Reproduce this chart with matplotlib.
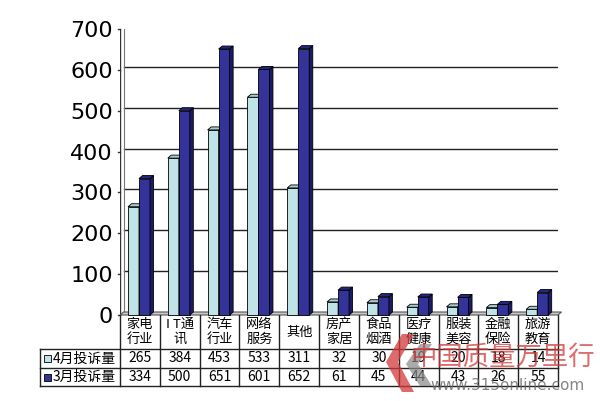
import numpy as np
import matplotlib
matplotlib.use("Agg")
import matplotlib.pyplot as plt
from matplotlib.patches import Polygon

plt.rcParams['font.family'] = ['Noto Sans CJK SC', 'DejaVu Sans']

categories = ["家电\n行业", "I T通\n讯", "汽车\n行业", "网络\n服务", "其他",
              "房产\n家居", "食品\n烟酒", "医疗\n健康", "服装\n美容", "金融\n保险", "旅游\n教育"]
april = [265, 384, 453, 533, 311, 32, 30, 19, 20, 18, 14]
march = [334, 500, 651, 601, 652, 61, 45, 44, 43, 26, 55]
series_names = ["4月投诉量", "3月投诉量"]
yticks = [0, 100, 200, 300, 400, 500, 600, 700]

light = ("#BFE3E6", "#86AEB2", "#A6CDD0")   # front, side, top
dark = ("#333399", "#1C1C66", "#262680")

W, H = 600, 401
fig = plt.figure(figsize=(6, 4.01), dpi=100)

def rect(x0, y0, x1, y1):
    # pixel box (top-left origin) -> figure fraction
    return [x0 / W, 1 - y1 / H, (x1 - x0) / W, (y1 - y0) / H]

# chart area (front plane)
ax = fig.add_axes(rect(120, 29, 558, 315))
n = len(categories)
ax.set_xlim(0, n)
ax.set_ylim(0, 700)
for s in ax.spines.values():
    s.set_visible(False)
ax.set_xticks([])
ax.set_yticks(yticks)
ax.set_yticklabels([str(v) for v in yticks], family='DejaVu Sans', fontsize=16)
ax.tick_params(axis='y', length=0, pad=5)

pxx = 438 / n     # pixels per x unit
pxy = 286 / 700   # pixels per y unit
dx = 3.5 / pxx
dy = 3.0 / pxy

# back wall gridlines
for v in yticks[1:-1]:
    ax.plot([dx, n + dx], [v + dy, v + dy], color="#222222", lw=1.0, zorder=1)
ax.plot([dx, n + dx], [700 + dy, 700 + dy], color="#707070", lw=1.8, zorder=1)
ax.plot([n + dx, n + dx], [dy, 700 + dy], color="#707070", lw=1.8, zorder=1)
ax.plot([0, 0], [0, 700], color="#333333", lw=1.0, zorder=1)
ax.plot([dx, dx], [dy, 700 + dy], color="#777777", lw=0.8, zorder=1)
for v in yticks:
    ax.plot([-0.06, 0], [v, v], color="#333333", lw=1.0, zorder=1, clip_on=False)

# floor
ax.add_patch(Polygon([(0, 0), (n, 0), (n + dx, dy), (dx, dy)], closed=True,
                     facecolor="#C8C8C8", edgecolor="#555555", lw=0.8, zorder=2,
                     clip_on=False))

def bar3d(x0, w, h, cols):
    x1 = x0 + w
    ax.add_patch(Polygon([(x0, 0), (x1, 0), (x1, h), (x0, h)], closed=True,
                         facecolor=cols[0], edgecolor="black", lw=0.6, zorder=3,
                         clip_on=False))
    ax.add_patch(Polygon([(x1, 0), (x1 + dx, dy), (x1 + dx, h + dy), (x1, h)], closed=True,
                         facecolor=cols[1], edgecolor="black", lw=0.6, zorder=3,
                         clip_on=False))
    ax.add_patch(Polygon([(x0, h), (x1, h), (x1 + dx, h + dy), (x0 + dx, h + dy)], closed=True,
                         facecolor=cols[2], edgecolor="black", lw=0.6, zorder=3,
                         clip_on=False))

bw = 11 / pxx
for i in range(n):
    bar3d(i + 8 / pxx, bw, april[i], light)
    bar3d(i + 8 / pxx + bw, bw, march[i], dark)

# data table
tb = fig.add_axes(rect(0, 315, 600, 401))
tb.set_xlim(0, 600)
tb.set_ylim(401, 315)
tb.axis('off')
lc = "#222222"
col_x = [120 + i * 438 / n for i in range(n + 1)]
tb.plot([40, 558], [349, 349], color=lc, lw=1)
tb.plot([40, 558], [368, 368], color=lc, lw=1)
tb.plot([40, 558], [386, 386], color=lc, lw=1)
tb.plot([40, 40], [349, 386], color=lc, lw=1)
for x in col_x:
    tb.plot([x, x], [315, 386], color=lc, lw=1)

for i in range(n):
    cx = (col_x[i] + col_x[i + 1]) / 2
    tb.text(cx, 332, categories[i], ha='center', va='center', fontsize=9.5,
            linespacing=1.2)
    tb.text(cx, 358.5, str(april[i]), ha='center', va='center', fontsize=10)
    tb.text(cx, 377, str(march[i]), ha='center', va='center', fontsize=10)

for row_y, name, cols in [(358.5, series_names[0], light), (377, series_names[1], dark)]:
    tb.add_patch(Polygon([(44, row_y - 3.5), (51, row_y - 3.5), (51, row_y + 3.5), (44, row_y + 3.5)],
                         closed=True, facecolor=cols[0], edgecolor="black", lw=0.6))
    tb.text(53, row_y, name, ha='left', va='center', fontsize=10)

# watermark
tb.add_patch(Polygon([(414, 334), (402, 334), (386, 362), (402, 392), (414, 392), (398, 362)],
                     closed=True, facecolor="#D43A3A", edgecolor="none", alpha=0.75, zorder=5))
tb.add_patch(Polygon([(432, 344), (420, 344), (406, 364), (420, 386), (432, 386), (418, 364)],
                     closed=True, facecolor="#888888", edgecolor="none", alpha=0.7, zorder=5))
tb.text(503, 357, "中国质量万里行", ha='center', va='center', fontsize=19,
        color="#D43A3A", alpha=0.75, zorder=6)
tb.text(507, 386, "www.315online.com", ha='center', va='center', fontsize=11,
        family='DejaVu Sans', color="#666666", alpha=0.8, zorder=6)

fig.savefig("out.png", dpi=100)
